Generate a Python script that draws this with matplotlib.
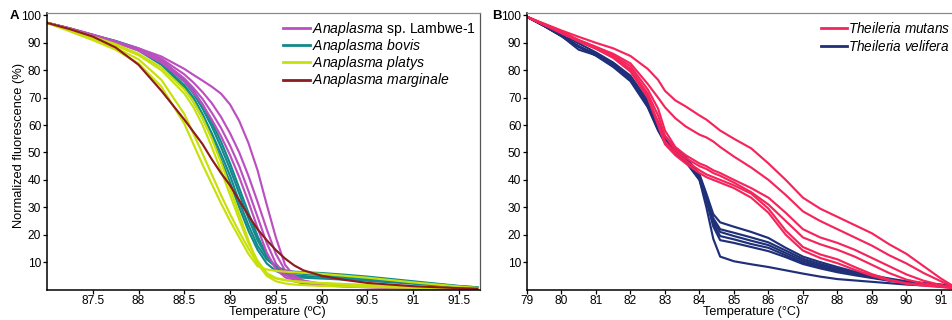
import matplotlib
matplotlib.use("Agg")
import matplotlib.pyplot as plt
from matplotlib.lines import Line2D

plt.rcParams['font.family'] = ['Liberation Sans', 'DejaVu Sans']
plt.rcParams['mathtext.fontset'] = 'custom'
plt.rcParams['mathtext.it'] = 'Liberation Sans:italic'
plt.rcParams['mathtext.rm'] = 'Liberation Sans'

# ---------------- Panel A data ----------------
temp_a = [87.0, 87.25, 87.5, 87.75, 88.0, 88.25, 88.5, 88.6, 88.7, 88.8, 88.9, 89.0, 89.1,
          89.2, 89.3, 89.4, 89.5, 89.6, 89.7, 89.8, 90.0, 90.25, 90.5, 91.0, 91.5, 91.7]

lambwe = [
    [97.3, 95.3, 93.0, 90.5, 88.0, 85.0, 80.5, 78.3, 76.2, 74.0, 71.5, 67.5, 61.5, 53.5, 43.5, 31.0, 19.0, 9.0, 5.0, 3.3, 2.0, 1.4, 1.0, 0.5, 0.2, 0.1],
    [97.3, 95.2, 92.8, 90.3, 87.5, 83.5, 77.0, 73.5, 69.5, 64.5, 59.0, 52.5, 45.0, 36.0, 26.5, 17.0, 9.5, 5.5, 3.5, 2.5, 1.6, 1.2, 0.9, 0.4, 0.2, 0.1],
    [97.3, 95.1, 92.7, 90.1, 87.2, 82.8, 76.0, 72.0, 67.5, 62.0, 56.0, 49.0, 41.0, 32.0, 22.5, 13.5, 7.5, 4.5, 3.0, 2.2, 1.5, 1.1, 0.8, 0.4, 0.2, 0.1],
    [97.3, 95.3, 92.9, 90.4, 87.8, 84.2, 78.5, 75.5, 72.0, 68.0, 63.0, 57.0, 50.0, 41.5, 32.0, 22.0, 13.0, 7.0, 4.2, 3.0, 1.9, 1.3, 1.0, 0.5, 0.2, 0.1],
]
bovis = [
    [97.3, 95.2, 92.8, 90.5, 87.5, 82.5, 74.5, 70.0, 64.0, 57.0, 49.5, 41.5, 32.0, 23.5, 16.0, 11.0, 8.3, 7.0, 6.5, 6.3, 6.0, 5.4, 4.7, 3.0, 1.3, 0.8],
    [97.3, 95.2, 92.8, 90.6, 87.8, 83.2, 75.8, 71.5, 66.0, 59.5, 52.0, 44.0, 35.0, 26.0, 18.0, 12.0, 8.5, 6.8, 6.0, 5.7, 5.3, 4.8, 4.2, 2.7, 1.2, 0.8],
    [97.3, 95.2, 92.9, 90.7, 88.0, 83.8, 76.5, 72.5, 67.5, 61.0, 54.0, 46.0, 37.0, 28.0, 19.5, 12.5, 8.0, 6.0, 5.2, 4.9, 4.6, 4.2, 3.7, 2.4, 1.1, 0.7],
    [97.3, 95.1, 92.7, 90.4, 87.2, 82.0, 73.5, 68.5, 62.5, 55.5, 47.5, 39.0, 30.0, 21.5, 14.5, 9.5, 6.8, 5.3, 4.6, 4.3, 4.0, 3.6, 3.2, 2.1, 1.0, 0.6],
]
platys = [
    [97.3, 94.2, 91.0, 87.5, 82.5, 74.0, 60.5, 53.0, 45.5, 38.5, 31.5, 25.0, 19.0, 13.0, 8.5, 7.3, 6.8, 6.5, 6.3, 6.1, 5.7, 5.0, 4.3, 2.6, 1.1, 0.6],
    [97.3, 94.4, 91.4, 88.2, 84.0, 76.5, 64.0, 56.8, 49.5, 42.0, 34.5, 27.5, 21.0, 15.0, 9.5, 5.5, 4.0, 3.4, 3.0, 2.8, 2.4, 2.0, 1.7, 1.0, 0.4, 0.2],
    [97.3, 95.0, 92.3, 89.5, 86.0, 81.0, 73.0, 68.5, 62.5, 55.0, 46.5, 37.0, 27.5, 18.0, 9.5, 5.0, 3.0, 2.2, 1.8, 1.6, 1.3, 1.1, 0.9, 0.6, 0.3, 0.2],
    [97.3, 94.8, 92.0, 89.0, 85.5, 80.0, 71.5, 66.5, 60.0, 52.0, 43.5, 34.5, 25.5, 17.0, 10.5, 6.0, 4.2, 3.5, 3.0, 2.7, 2.2, 1.8, 1.5, 0.9, 0.4, 0.2],
]
marginale = [
    [97.3, 95.0, 92.3, 88.3, 82.0, 72.5, 62.0, 57.5, 53.0, 47.5, 42.5, 38.0, 32.5, 27.0, 22.0, 18.0, 14.4, 11.3, 8.8, 7.0, 5.0, 3.5, 2.4, 1.2, 0.5, 0.3],
]

# ---------------- Panel B data ----------------
temp_b = [79, 79.5, 80, 80.5, 81, 81.5, 82, 82.5, 82.8, 83, 83.3, 83.6, 84, 84.2, 84.4, 84.6,
          85, 85.5, 86, 86.5, 87, 87.5, 88, 88.5, 89, 89.5, 90, 90.5, 91, 91.35]

mutans = [
    [99.5, 97.0, 94.5, 92.2, 90.0, 88.0, 85.2, 80.5, 76.5, 72.5, 69.0, 66.8, 63.5, 62.0, 60.0, 58.0, 55.0, 51.5, 46.0, 40.0, 33.5, 29.5, 26.5, 23.5, 20.5, 16.5, 13.0, 8.5, 4.0, 1.3],
    [99.5, 96.8, 94.0, 91.0, 88.5, 86.0, 82.5, 75.0, 70.0, 66.5, 62.5, 59.5, 56.5, 55.5, 54.0, 52.0, 48.5, 44.5, 40.0, 34.5, 28.5, 25.0, 22.0, 19.0, 16.0, 12.5, 9.5, 6.0, 3.0, 1.0],
    [99.5, 96.7, 94.0, 91.0, 88.5, 85.5, 81.5, 73.0, 66.0, 58.0, 52.0, 49.0, 46.0, 45.0, 43.5, 42.5, 40.0, 37.0, 33.5, 28.0, 22.0, 19.0, 17.0, 14.5, 11.5, 8.5, 5.5, 3.2, 1.6, 0.8],
    [99.5, 96.6, 93.8, 90.8, 88.0, 85.0, 80.5, 71.5, 63.5, 56.0, 51.0, 48.0, 45.0, 44.0, 42.5, 41.5, 39.0, 35.5, 31.0, 25.0, 19.0, 16.5, 14.5, 12.0, 9.0, 6.0, 3.6, 2.2, 1.2, 0.7],
    [99.5, 96.6, 93.7, 90.7, 88.0, 84.8, 80.0, 70.5, 61.0, 54.0, 50.0, 47.0, 43.5, 42.0, 41.0, 40.0, 38.0, 35.0, 29.5, 21.5, 15.5, 12.8, 11.0, 8.2, 5.6, 3.6, 2.3, 1.6, 1.0, 0.6],
    [99.5, 96.5, 93.5, 90.5, 87.8, 84.5, 79.5, 70.0, 60.0, 53.0, 49.0, 46.0, 42.5, 41.0, 40.0, 39.0, 37.0, 33.5, 28.0, 20.0, 14.2, 11.5, 9.6, 7.2, 5.0, 3.3, 2.1, 1.4, 0.9, 0.5],
]
velifera = [
    [99.5, 96.5, 93.2, 89.8, 86.5, 82.8, 78.0, 69.0, 61.0, 56.0, 51.5, 48.5, 42.0, 35.0, 27.5, 24.5, 22.9, 21.0, 18.8, 15.2, 12.0, 10.0, 8.2, 6.5, 5.2, 4.0, 3.0, 2.4, 1.8, 1.5],
    [99.5, 96.3, 92.8, 88.5, 86.0, 82.3, 77.5, 68.0, 60.0, 55.0, 51.0, 48.0, 41.5, 34.0, 26.0, 22.0, 20.7, 19.0, 17.2, 14.2, 11.2, 9.3, 7.6, 6.1, 4.9, 3.7, 2.8, 2.2, 1.7, 1.4],
    [99.5, 96.2, 92.5, 87.5, 85.5, 81.8, 77.0, 67.5, 59.0, 54.5, 50.5, 47.5, 41.0, 33.5, 25.0, 21.0, 19.5, 17.8, 16.2, 13.3, 10.5, 8.7, 7.2, 5.8, 4.6, 3.5, 2.7, 2.1, 1.6, 1.3],
    [99.5, 96.2, 92.6, 88.8, 85.6, 81.6, 76.5, 67.0, 58.5, 54.0, 50.0, 47.0, 40.5, 33.0, 24.0, 19.5, 18.3, 16.6, 15.2, 12.5, 9.8, 8.2, 6.8, 5.5, 4.4, 3.4, 2.6, 2.0, 1.5, 1.2],
    [99.5, 96.1, 92.4, 88.6, 85.3, 81.2, 76.0, 66.5, 58.0, 53.5, 49.5, 46.5, 40.0, 32.5, 23.0, 18.0, 17.0, 15.5, 14.0, 11.8, 9.3, 7.7, 6.3, 5.2, 4.2, 3.2, 2.5, 1.9, 1.5, 1.2],
    [99.5, 96.2, 92.6, 88.7, 85.5, 81.5, 76.5, 67.0, 58.5, 54.0, 50.0, 47.0, 40.0, 30.0, 18.5, 12.0, 10.3, 9.2, 8.2, 7.0, 5.8, 4.7, 3.8, 3.3, 2.8, 2.3, 1.8, 1.5, 1.2, 1.0],
]

ticks_a = [87.5, 88, 88.5, 89, 89.5, 90, 90.5, 91, 91.5]
ticklabels_a = ['87.5', '88', '88.5', '89', '89.5', '90', '90.5', '91', '91.5']
ticks_b = list(range(79, 92))
yticks = [10, 20, 30, 40, 50, 60, 70, 80, 90, 100]

c_lambwe, c_bovis, c_platys, c_marg = '#BC4FC0', '#12898C', '#C8E00A', '#8E1B1E'
c_mutans, c_velifera = '#F5255C', '#1F2F78'

W, H = 953, 320
fig = plt.figure(figsize=(W / 100, H / 100), dpi=100)

def rect(l, r, t, b):
    return [l / W, 1 - b / H, (r - l) / W, (b - t) / H]

axA = fig.add_axes(rect(47, 480, 12.7, 289.5))
axB = fig.add_axes(rect(527, 953, 12.7, 289.5))

lw = 1.55
for curve in bovis:
    axA.plot(temp_a, curve, color=c_bovis, lw=lw)
for curve in lambwe:
    axA.plot(temp_a, curve, color=c_lambwe, lw=lw)
for curve in platys:
    axA.plot(temp_a, curve, color=c_platys, lw=lw)
for curve in marginale:
    axA.plot(temp_a, curve, color=c_marg, lw=lw)

for curve in velifera:
    axB.plot(temp_b, curve, color=c_velifera, lw=lw)
for curve in mutans:
    axB.plot(temp_b, curve, color=c_mutans, lw=lw)

axA.set_xlim(87.0, 91.73)
axB.set_xlim(79, 91.35)
for ax in (axA, axB):
    ax.set_ylim(0, 101)
    ax.set_yticks(yticks)
    ax.set_yticklabels([str(v) for v in yticks])
    ax.tick_params(axis='both', direction='out', length=3, width=0.9, pad=1.2,
                   labelsize=8.6, colors='black', top=False, right=False)
    ax.spines['left'].set_linewidth(1.1)
    ax.spines['bottom'].set_linewidth(1.1)
    ax.spines['top'].set_color('#8a8a8a')
    ax.spines['top'].set_linewidth(0.9)
axA.spines['right'].set_color('#555555')
axA.spines['right'].set_linewidth(0.9)
axB.spines['right'].set_visible(False)

axA.set_xticks(ticks_a)
axA.set_xticklabels(ticklabels_a)
axB.set_xticks(ticks_b)
axB.set_xticklabels([str(t) for t in ticks_b])

fig.text(277 / W, 1 - 312.5 / H, 'Temperature (ºC)', ha='center', va='center', fontsize=9.1)
fig.text(752 / W, 1 - 312.5 / H, 'Temperature (°C)', ha='center', va='center', fontsize=9.1)
fig.text(19 / W, 1 - 145.5 / H, 'Normalized fluorescence (%)', ha='center', va='center',
         rotation=90, fontsize=9.3)
fig.text(10 / W, 1 - 16 / H, 'A', ha='left', va='center', fontsize=9.5, fontweight='bold')
fig.text(492 / W, 1 - 16 / H, 'B', ha='left', va='center', fontsize=9.5, fontweight='bold')

hA = [Line2D([], [], color=c, lw=2) for c in (c_lambwe, c_bovis, c_platys, c_marg)]
labA = [r'$\it{Anaplasma}$ sp. Lambwe-1', r'$\it{Anaplasma\ bovis}$',
        r'$\it{Anaplasma\ platys}$', r'$\it{Anaplasma\ marginale}$']
fig.legend(hA, labA, loc='upper left', bbox_to_anchor=(283 / W, 1 - 20 / H),
           frameon=False, fontsize=10.1, handlelength=1.9, handletextpad=0.15,
           labelspacing=-0.06, borderpad=0, borderaxespad=0)
hB = [Line2D([], [], color=c, lw=2) for c in (c_mutans, c_velifera)]
labB = [r'$\it{Theileria\ mutans}$', r'$\it{Theileria\ velifera}$']
fig.legend(hB, labB, loc='upper left', bbox_to_anchor=(821 / W, 1 - 21 / H),
           frameon=False, fontsize=9.8, handlelength=1.9, handletextpad=0.1,
           labelspacing=0.22, borderpad=0, borderaxespad=0)

fig.savefig('out.png', dpi=100)
